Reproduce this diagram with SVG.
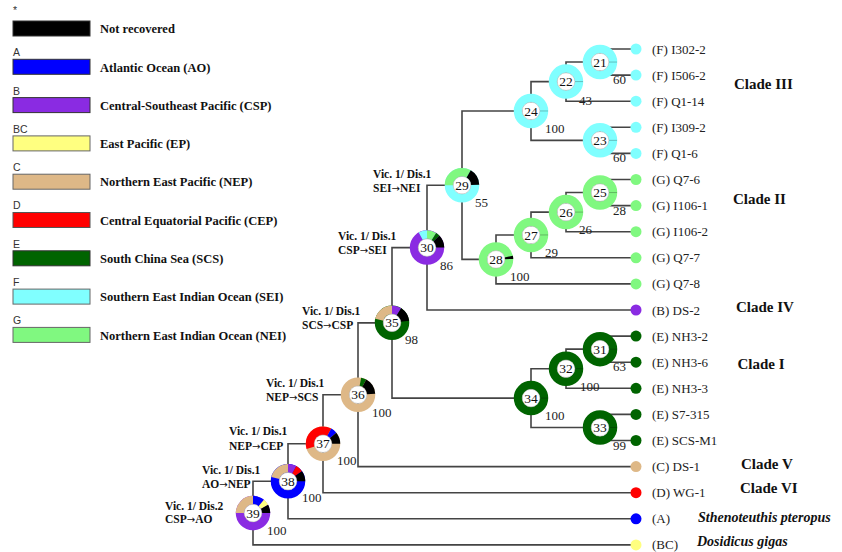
<svg xmlns="http://www.w3.org/2000/svg" width="842" height="552" viewBox="0 0 842 552">
<style>
.br{fill:none;stroke:#444;stroke-width:1.6}
.ring{fill:none;stroke-width:8.5}
.in{fill:#fff;stroke:#aaa;stroke-width:0.5}
.dv{stroke:#000;stroke-opacity:0.25;stroke-width:1}
.num{font-family:"Liberation Serif",serif;font-size:13.5px;text-anchor:middle;fill:#111}
.bs{font-family:"Liberation Serif",serif;font-size:13px;fill:#222}
.ev{font-family:"Liberation Serif",serif;font-size:11.5px;font-weight:bold;fill:#111}
.ar{font-family:"DejaVu Sans",sans-serif;font-weight:normal;font-size:10px}
.lf{font-family:"Liberation Serif",serif;font-size:13px;fill:#222}
.cl{font-family:"Liberation Serif",serif;font-size:15px;font-weight:bold;fill:#111}
.sp{font-family:"Liberation Serif",serif;font-size:14px;font-weight:bold;font-style:italic;fill:#111}
.lg{font-family:"Liberation Serif",serif;font-size:12.5px;font-weight:bold;fill:#111}
.lt{font-family:"Liberation Sans",sans-serif;font-size:10.5px;fill:#333}
.box{stroke-width:1}
.sK{stroke:#000}.sA{stroke:#0000FF}.sB{stroke:#8A2BE2}.sBC{stroke:#FFFF80}.sC{stroke:#DEB887}.sD{stroke:#FF0000}.sE{stroke:#006400}.sF{stroke:#80FFFF}.sG{stroke:#80F880}
.fK{fill:#000}.fA{fill:#0000FF}.fB{fill:#8A2BE2}.fBC{fill:#FFFF80}.fC{fill:#DEB887}.fD{fill:#FF0000}.fE{fill:#006400}.fF{fill:#80FFFF}.fG{fill:#80F880}
</style>

<g id="legend">
  <text class="lt" x="13" y="14" fill="#666">*</text>
  <rect class="box fK" x="13" y="21" width="77" height="15" stroke="#333"/>
  <text class="lg" x="100" y="33">Not recovered</text>
  <text class="lt" x="13" y="56">A</text>
  <rect class="box fA" x="13" y="59.3" width="77" height="15" stroke="#333"/>
  <text class="lg" x="100" y="71.5">Atlantic Ocean (AO)</text>
  <text class="lt" x="13" y="94.5">B</text>
  <rect class="box fB" x="13" y="97.6" width="77" height="15" stroke="#333"/>
  <text class="lg" x="100" y="109.8">Central-Southeast Pacific (CSP)</text>
  <text class="lt" x="13" y="132.8">BC</text>
  <rect class="box fBC" x="13" y="135.9" width="77" height="15" stroke="#666"/>
  <text class="lg" x="100" y="148.1">East Pacific (EP)</text>
  <text class="lt" x="13" y="171.1">C</text>
  <rect class="box fC" x="13" y="174.2" width="77" height="15" stroke="#666"/>
  <text class="lg" x="100" y="186.4">Northern East Pacific (NEP)</text>
  <text class="lt" x="13" y="209.4">D</text>
  <rect class="box fD" x="13" y="212.5" width="77" height="15" stroke="#555"/>
  <text class="lg" x="100" y="224.7">Central Equatorial Pacific (CEP)</text>
  <text class="lt" x="13" y="247.7">E</text>
  <rect class="box fE" x="13" y="250.8" width="77" height="15" stroke="#333"/>
  <text class="lg" x="100" y="263">South China Sea (SCS)</text>
  <text class="lt" x="13" y="286">F</text>
  <rect class="box fF" x="13" y="289.1" width="77" height="15" stroke="#666"/>
  <text class="lg" x="100" y="301.3">Southern East Indian Ocean (SEI)</text>
  <text class="lt" x="13" y="324.3">G</text>
  <rect class="box fG" x="13" y="327.4" width="77" height="15" stroke="#666"/>
  <text class="lg" x="100" y="339.6">Northern East Indian Ocean (NEI)</text>
</g>

<g id="connectors">
  <path class="br" d="M636 49 H600 V75.1 H636"/>
  <path class="br" d="M600 62.05 H566 V101.2 H636"/>
  <path class="br" d="M636 127.3 H600 V153.4 H636"/>
  <path class="br" d="M566 81.6 H531 V140.35 H600"/>
  <path class="br" d="M636 179.5 H600 V205.6 H636"/>
  <path class="br" d="M600 192.55 H566 V231.7 H636"/>
  <path class="br" d="M566 212.1 H531 V257.8 H636"/>
  <path class="br" d="M531 234.95 H496 V283.9 H636"/>
  <path class="br" d="M531 110.98 H462 V259.4 H496"/>
  <path class="br" d="M462 185.2 H427 V310 H636"/>
  <path class="br" d="M636 336.1 H600 V362.2 H636"/>
  <path class="br" d="M600 349.15 H566 V388.3 H636"/>
  <path class="br" d="M636 414.4 H600 V440.5 H636"/>
  <path class="br" d="M566 368.7 H531 V427.45 H600"/>
  <path class="br" d="M427 247.6 H392 V398.1 H531"/>
  <path class="br" d="M392 322.85 H358 V466.6 H636"/>
  <path class="br" d="M358 394.7 H323 V492.7 H636"/>
  <path class="br" d="M323 443.7 H288 V518.8 H636"/>
  <path class="br" d="M288 481.25 H253 V544.9 H636"/>
</g>

<g id="node21">
  <circle class="ring sF" cx="600" cy="62.05" r="13"/>
  <line class="dv" x1="609" y1="62.05" x2="617" y2="62.05"/>
  <circle class="in" cx="600" cy="62.05" r="8.8"/>
  <text class="num" x="600" y="66.6">21</text>
  <text class="bs" x="613" y="84">60</text>
</g>
<g id="node22">
  <circle class="ring sF" cx="566" cy="81.6" r="13"/>
  <line class="dv" x1="575" y1="81.6" x2="583" y2="81.6"/>
  <circle class="in" cx="566" cy="81.6" r="8.8"/>
  <text class="num" x="566" y="86.1">22</text>
  <text class="bs" x="579" y="105">43</text>
</g>
<g id="node23">
  <circle class="ring sF" cx="600" cy="140.35" r="13"/>
  <line class="dv" x1="609" y1="140.35" x2="617" y2="140.35"/>
  <circle class="in" cx="600" cy="140.35" r="8.8"/>
  <text class="num" x="600" y="144.9">23</text>
  <text class="bs" x="613" y="162">60</text>
</g>
<g id="node24">
  <circle class="ring sF" cx="531" cy="110.98" r="13"/>
  <line class="dv" x1="540" y1="110.98" x2="548" y2="110.98"/>
  <circle class="in" cx="531" cy="110.98" r="8.8"/>
  <text class="num" x="531" y="115.5">24</text>
  <text class="bs" x="545" y="133">100</text>
</g>
<g id="node25">
  <circle class="ring sG" cx="600" cy="192.55" r="13"/>
  <line class="dv" x1="609" y1="192.55" x2="617" y2="192.55"/>
  <circle class="in" cx="600" cy="192.55" r="8.8"/>
  <text class="num" x="600" y="197.1">25</text>
  <text class="bs" x="613" y="214.5">28</text>
</g>
<g id="node26">
  <circle class="ring sG" cx="566" cy="212.1" r="13"/>
  <line class="dv" x1="575" y1="212.1" x2="583" y2="212.1"/>
  <circle class="in" cx="566" cy="212.1" r="8.8"/>
  <text class="num" x="566" y="216.6">26</text>
  <text class="bs" x="579" y="234">26</text>
</g>
<g id="node27">
  <circle class="ring sG" cx="531" cy="234.95" r="13"/>
  <line class="dv" x1="540" y1="234.95" x2="548" y2="234.95"/>
  <circle class="in" cx="531" cy="234.95" r="8.8"/>
  <text class="num" x="531" y="239.5">27</text>
  <text class="bs" x="545" y="257">29</text>
</g>
<g id="node28">
  <circle class="ring sG" cx="496" cy="259.4" r="13"/>
  <circle class="ring sK" cx="496" cy="259.4" r="13" pathLength="100" stroke-dasharray="3 100" stroke-dashoffset="-96.5"/>
  <circle class="in" cx="496" cy="259.4" r="8.8"/>
  <text class="num" x="496" y="263.9">28</text>
  <text class="bs" x="510" y="281">100</text>
</g>
<g id="node29">
  <circle class="ring sF" cx="462" cy="185.2" r="13"/>
  <circle class="ring sG" cx="462" cy="185.2" r="13" pathLength="100" stroke-dasharray="33.5 100" stroke-dashoffset="-50"/>
  <circle class="ring sK" cx="462" cy="185.2" r="13" pathLength="100" stroke-dasharray="16 100" stroke-dashoffset="-83.5"/>
  <circle class="in" cx="462" cy="185.2" r="8.8"/>
  <text class="num" x="462" y="189.7">29</text>
  <text class="bs" x="475" y="207">55</text>
  <text class="ev" x="373" y="177.5">Vic. 1/ Dis.1</text>
  <text class="ev" x="373" y="191.5">SEI<tspan class="ar">→</tspan>NEI</text>
</g>
<g id="node30">
  <circle class="ring sB" cx="427" cy="247.6" r="13"/>
  <circle class="ring sF" cx="427" cy="247.6" r="13" pathLength="100" stroke-dasharray="8 100" stroke-dashoffset="-67"/>
  <circle class="ring sG" cx="427" cy="247.6" r="13" pathLength="100" stroke-dasharray="9 100" stroke-dashoffset="-75"/>
  <circle class="ring sE" cx="427" cy="247.6" r="13" pathLength="100" stroke-dasharray="4 100" stroke-dashoffset="-84"/>
  <circle class="ring sK" cx="427" cy="247.6" r="13" pathLength="100" stroke-dasharray="12 100" stroke-dashoffset="-88"/>
  <circle class="in" cx="427" cy="247.6" r="8.8"/>
  <text class="num" x="427" y="252.1">30</text>
  <text class="bs" x="440" y="269.5">86</text>
  <text class="ev" x="338" y="240">Vic. 1/ Dis.1</text>
  <text class="ev" x="338" y="254">CSP<tspan class="ar">→</tspan>SEI</text>
</g>
<g id="node31">
  <circle class="ring sE" cx="600" cy="349.15" r="13"/>
  <line class="dv" x1="609" y1="349.15" x2="617" y2="349.15"/>
  <circle class="in" cx="600" cy="349.15" r="8.8"/>
  <text class="num" x="600" y="353.7">31</text>
  <text class="bs" x="613" y="371">63</text>
</g>
<g id="node32">
  <circle class="ring sE" cx="566" cy="368.7" r="13"/>
  <line class="dv" x1="575" y1="368.7" x2="583" y2="368.7"/>
  <circle class="in" cx="566" cy="368.7" r="8.8"/>
  <text class="num" x="566" y="373.2">32</text>
  <text class="bs" x="580" y="391">100</text>
</g>
<g id="node33">
  <circle class="ring sE" cx="600" cy="427.45" r="13"/>
  <line class="dv" x1="609" y1="427.45" x2="617" y2="427.45"/>
  <circle class="in" cx="600" cy="427.45" r="8.8"/>
  <text class="num" x="600" y="432">33</text>
  <text class="bs" x="613" y="449.5">99</text>
</g>
<g id="node34">
  <circle class="ring sE" cx="531" cy="398.1" r="13"/>
  <line class="dv" x1="540" y1="398.1" x2="548" y2="398.1"/>
  <circle class="in" cx="531" cy="398.1" r="8.8"/>
  <text class="num" x="531" y="402.6">34</text>
  <text class="bs" x="545" y="420">100</text>
</g>
<g id="node35">
  <circle class="ring sE" cx="392" cy="322.85" r="13"/>
  <circle class="ring sC" cx="392" cy="322.85" r="13" pathLength="100" stroke-dasharray="21 100" stroke-dashoffset="-54"/>
  <circle class="ring sB" cx="392" cy="322.85" r="13" pathLength="100" stroke-dasharray="9 100" stroke-dashoffset="-75"/>
  <circle class="ring sK" cx="392" cy="322.85" r="13" pathLength="100" stroke-dasharray="14 100" stroke-dashoffset="-84"/>
  <circle class="in" cx="392" cy="322.85" r="8.8"/>
  <text class="num" x="392" y="327.4">35</text>
  <text class="bs" x="405" y="343.5">98</text>
  <text class="ev" x="302" y="315">Vic. 1/ Dis.1</text>
  <text class="ev" x="302" y="329">SCS<tspan class="ar">→</tspan>CSP</text>
</g>
<g id="node36">
  <circle class="ring sC" cx="358" cy="394.7" r="13"/>
  <circle class="ring sE" cx="358" cy="394.7" r="13" pathLength="100" stroke-dasharray="5 100" stroke-dashoffset="-78"/>
  <circle class="ring sK" cx="358" cy="394.7" r="13" pathLength="100" stroke-dasharray="16 100" stroke-dashoffset="-83"/>
  <circle class="in" cx="358" cy="394.7" r="8.8"/>
  <text class="num" x="358" y="399.2">36</text>
  <text class="bs" x="372" y="417">100</text>
  <text class="ev" x="266" y="387">Vic. 1/ Dis.1</text>
  <text class="ev" x="266" y="401">NEP<tspan class="ar">→</tspan>SCS</text>
</g>
<g id="node37">
  <circle class="ring sC" cx="323" cy="443.7" r="13"/>
  <circle class="ring sD" cx="323" cy="443.7" r="13" pathLength="100" stroke-dasharray="38 100" stroke-dashoffset="-45"/>
  <circle class="ring sA" cx="323" cy="443.7" r="13" pathLength="100" stroke-dasharray="6 100" stroke-dashoffset="-83"/>
  <circle class="ring sK" cx="323" cy="443.7" r="13" pathLength="100" stroke-dasharray="11 100" stroke-dashoffset="-89"/>
  <circle class="in" cx="323" cy="443.7" r="8.8"/>
  <text class="num" x="323" y="448.2">37</text>
  <text class="bs" x="337" y="465">100</text>
  <text class="ev" x="229" y="435">Vic. 1/ Dis.1</text>
  <text class="ev" x="229" y="449.5">NEP<tspan class="ar">→</tspan>CEP</text>
</g>
<g id="node38">
  <circle class="ring sA" cx="288" cy="481.25" r="13"/>
  <circle class="ring sC" cx="288" cy="481.25" r="13" pathLength="100" stroke-dasharray="21 100" stroke-dashoffset="-54"/>
  <circle class="ring sB" cx="288" cy="481.25" r="13" pathLength="100" stroke-dasharray="8 100" stroke-dashoffset="-75"/>
  <circle class="ring sD" cx="288" cy="481.25" r="13" pathLength="100" stroke-dasharray="7 100" stroke-dashoffset="-83"/>
  <circle class="ring sK" cx="288" cy="481.25" r="13" pathLength="100" stroke-dasharray="10 100" stroke-dashoffset="-90"/>
  <circle class="in" cx="288" cy="481.25" r="8.8"/>
  <text class="num" x="288" y="485.8">38</text>
  <text class="bs" x="302" y="502">100</text>
  <text class="ev" x="202" y="473.5">Vic. 1/ Dis.1</text>
  <text class="ev" x="202" y="488">AO<tspan class="ar">→</tspan>NEP</text>
</g>
<g id="node39">
  <circle class="ring sB" cx="253" cy="513.1" r="13"/>
  <circle class="ring sC" cx="253" cy="513.1" r="13" pathLength="100" stroke-dasharray="25 100" stroke-dashoffset="-50"/>
  <circle class="ring sA" cx="253" cy="513.1" r="13" pathLength="100" stroke-dasharray="11 100" stroke-dashoffset="-75"/>
  <circle class="ring sBC" cx="253" cy="513.1" r="13" pathLength="100" stroke-dasharray="6 100" stroke-dashoffset="-86"/>
  <circle class="ring sK" cx="253" cy="513.1" r="13" pathLength="100" stroke-dasharray="8 100" stroke-dashoffset="-92"/>
  <circle class="in" cx="253" cy="513.1" r="8.8"/>
  <text class="num" x="253" y="517.6">39</text>
  <text class="bs" x="267" y="535">100</text>
  <text class="ev" x="165" y="510">Vic. 1/ Dis.2</text>
  <text class="ev" x="165" y="523">CSP<tspan class="ar">→</tspan>AO</text>
</g>

<g id="leaf-I302-2"><circle class="fF" cx="636" cy="49" r="5.5"/><text class="lf" x="652" y="53.5">(F) I302-2</text></g>
<g id="leaf-I506-2"><circle class="fF" cx="636" cy="75.1" r="5.5"/><text class="lf" x="652" y="79.6">(F) I506-2</text></g>
<g id="leaf-Q1-14"><circle class="fF" cx="636" cy="101.2" r="5.5"/><text class="lf" x="652" y="105.7">(F) Q1-14</text></g>
<g id="leaf-I309-2"><circle class="fF" cx="636" cy="127.3" r="5.5"/><text class="lf" x="652" y="131.8">(F) I309-2</text></g>
<g id="leaf-Q1-6"><circle class="fF" cx="636" cy="153.4" r="5.5"/><text class="lf" x="652" y="157.9">(F) Q1-6</text></g>
<g id="leaf-Q7-6"><circle class="fG" cx="636" cy="179.5" r="5.5"/><text class="lf" x="652" y="184">(G) Q7-6</text></g>
<g id="leaf-I106-1"><circle class="fG" cx="636" cy="205.6" r="5.5"/><text class="lf" x="652" y="210.1">(G) I106-1</text></g>
<g id="leaf-I106-2"><circle class="fG" cx="636" cy="231.7" r="5.5"/><text class="lf" x="652" y="236.2">(G) I106-2</text></g>
<g id="leaf-Q7-7"><circle class="fG" cx="636" cy="257.8" r="5.5"/><text class="lf" x="652" y="262.3">(G) Q7-7</text></g>
<g id="leaf-Q7-8"><circle class="fG" cx="636" cy="283.9" r="5.5"/><text class="lf" x="652" y="288.4">(G) Q7-8</text></g>
<g id="leaf-DS-2"><circle class="fB" cx="636" cy="310" r="5.5"/><text class="lf" x="652" y="314.5">(B) DS-2</text></g>
<g id="leaf-NH3-2"><circle class="fE" cx="636" cy="336.1" r="5.5"/><text class="lf" x="652" y="340.6">(E) NH3-2</text></g>
<g id="leaf-NH3-6"><circle class="fE" cx="636" cy="362.2" r="5.5"/><text class="lf" x="652" y="366.7">(E) NH3-6</text></g>
<g id="leaf-NH3-3"><circle class="fE" cx="636" cy="388.3" r="5.5"/><text class="lf" x="652" y="392.8">(E) NH3-3</text></g>
<g id="leaf-S7-315"><circle class="fE" cx="636" cy="414.4" r="5.5"/><text class="lf" x="652" y="418.9">(E) S7-315</text></g>
<g id="leaf-SCS-M1"><circle class="fE" cx="636" cy="440.5" r="5.5"/><text class="lf" x="652" y="445">(E) SCS-M1</text></g>
<g id="leaf-DS-1"><circle class="fC" cx="636" cy="466.6" r="5.5"/><text class="lf" x="652" y="471.1">(C) DS-1</text></g>
<g id="leaf-WG-1"><circle class="fD" cx="636" cy="492.7" r="5.5"/><text class="lf" x="652" y="497.2">(D) WG-1</text></g>
<g id="leaf-A"><circle class="fA" cx="636" cy="518.8" r="5.5"/><text class="lf" x="652" y="523.3">(A)</text></g>
<g id="leaf-BC"><circle class="fBC" cx="636" cy="544.9" r="5.5"/><text class="lf" x="652" y="549.4">(BC)</text></g>

<g id="clades">
  <text class="cl" x="734" y="88.5">Clade III</text>
  <text class="cl" x="733" y="203.5">Clade II</text>
  <text class="cl" x="736" y="312">Clade IV</text>
  <text class="cl" x="737.5" y="369">Clade I</text>
  <text class="cl" x="741" y="468.5">Clade V</text>
  <text class="cl" x="740" y="493">Clade VI</text>
  <text class="sp" x="698" y="522">Sthenoteuthis pteropus</text>
  <text class="sp" x="697" y="546">Dosidicus gigas</text>
</g>
</svg>
